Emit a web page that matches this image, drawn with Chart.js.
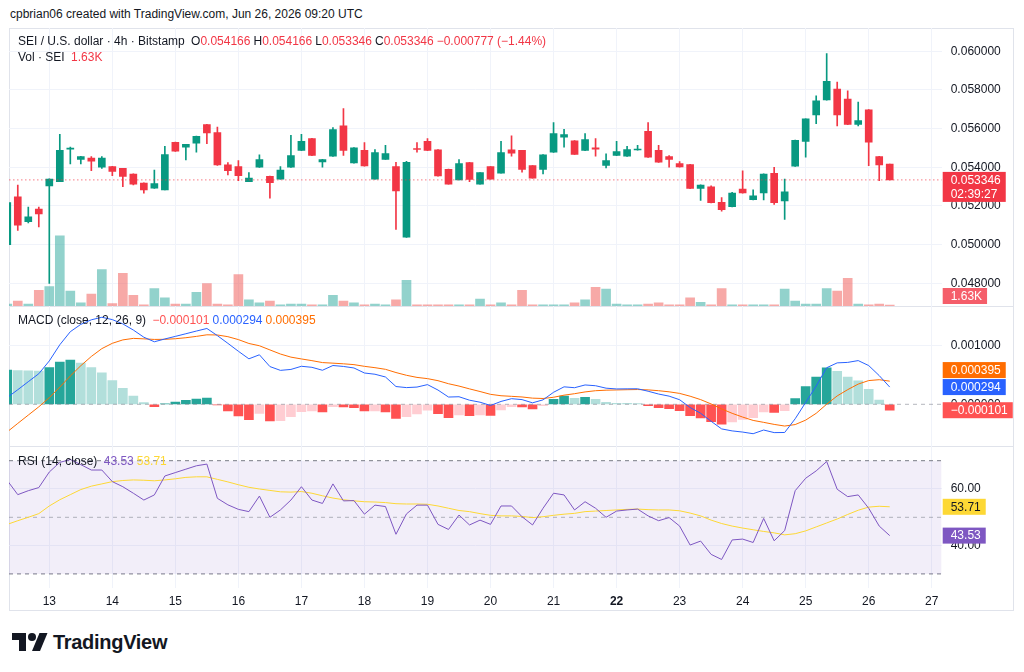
<!DOCTYPE html>
<html>
<head>
<meta charset="utf-8">
<title>SEI / U.S. dollar · 4h · Bitstamp</title>
<script src="https://cdn.jsdelivr.net/npm/chart.js@4.4.1/dist/chart.umd.min.js"></script>
<style>
  html, body { margin: 0; padding: 0; background: #ffffff; }
  body {
    position: relative; width: 1024px; height: 672px; overflow: hidden;
    font-family: 'Liberation Sans', Arial, sans-serif; font-size: 12px; color: #131722;
  }
  canvas { position: absolute; left: 0; }
  .frame { position: absolute; left: 9px; top: 28px; width: 1005px; height: 583px; border: 1px solid #e0e3eb; box-sizing: border-box; }
  .sep { position: absolute; left: 9px; width: 1005px; height: 1px; background: #e0e3eb; }
  .txt { position: absolute; white-space: pre; line-height: 14px; z-index: 2; }
  .txt .g { margin-left: 3px; }
  .red { color: #f23645; }
  .logo { position: absolute; left: 12px; top: 631px; height: 22px; display: flex; align-items: center; }
  .logo span { font-size: 20px; font-weight: bold; margin-left: 5px; letter-spacing: -0.3px; color: #131722; }
</style>
</head>
<body>
<div class="txt" style="left:10px;top:7px;color:#131722;">cpbrian06 created with TradingView.com, Jun 26, 2026 09:20 UTC</div>
<div class="frame"></div>
<div class="sep" style="top:306px"></div>
<div class="sep" style="top:446px"></div>
<canvas id="price" width="1024" height="278" style="top:28px"></canvas>
<canvas id="macd" width="1024" height="140" style="top:306px"></canvas>
<canvas id="rsi" width="1024" height="164" style="top:446px"></canvas>
<div class="txt" id="legSym" style="left:18px;top:34px"></div>
<div class="txt" id="legVol" style="left:18px;top:50px"></div>
<div class="txt" id="legMacd" style="left:18px;top:313px"></div>
<div class="txt" id="legRsi" style="left:18px;top:454px"></div>
<div class="logo">
  <svg width="36" height="18" viewBox="0 4 36 18"><path d="M14 22H7V11H0V4h14v18z" fill="#131722"/><circle cx="20" cy="8" r="4" fill="#131722"/><path d="M28 22h-8l7.5-18h8z" fill="#131722"/></svg>
  <span>TradingView</span>
</div>
<script>
// 4h candles, first one is Jun 12 08:00 UTC (day units on the x axis)
var firstCandleDay = 12 + 8 / 24;
var candleStepDays = 4 / 24;
var boldDayTicks = [22];
var countdownText = '02:39:27';

var opens = [0.05000, 0.05247, 0.05118, 0.05184,
  0.05304, 0.05325, 0.05494, 0.05440, 0.05447, 0.05400, 0.05403, 0.05394, 0.05365, 0.05318,
  0.05292, 0.05283, 0.05529, 0.05504, 0.05525, 0.05621, 0.05579, 0.05412, 0.05403, 0.05326,
  0.05400, 0.05353, 0.05339, 0.05400, 0.05487, 0.05548, 0.05428, 0.05457, 0.05614, 0.05422,
  0.05487, 0.05339, 0.05441, 0.05403, 0.05038, 0.05497, 0.05534, 0.05490, 0.05389, 0.05335,
  0.05424, 0.05313, 0.05403, 0.05370, 0.05490, 0.05487, 0.05408, 0.05389, 0.05478, 0.05555,
  0.05537, 0.05487, 0.05501, 0.05410, 0.05461, 0.05457, 0.05489, 0.05586, 0.05487, 0.05455,
  0.05419, 0.05414, 0.05290, 0.05299, 0.05219, 0.05196, 0.05287, 0.05232, 0.05267, 0.05368,
  0.05226, 0.05405, 0.05534, 0.05671, 0.05748, 0.05804, 0.05753, 0.05621, 0.05697, 0.05455,
  0.054166];
var highs = [0.05220, 0.05308, 0.05194, 0.05194,
  0.05340, 0.05570, 0.05504, 0.05457, 0.05455, 0.05455, 0.05405, 0.05395, 0.05366, 0.05319,
  0.05386, 0.05508, 0.05530, 0.05519, 0.05561, 0.05622, 0.05608, 0.05424, 0.05435, 0.05373,
  0.05464, 0.05354, 0.05403, 0.05565, 0.05570, 0.05549, 0.05441, 0.05605, 0.05704, 0.05502,
  0.05527, 0.05492, 0.05513, 0.05426, 0.05431, 0.05527, 0.05548, 0.05491, 0.05390, 0.05440,
  0.05425, 0.05373, 0.05404, 0.05534, 0.05563, 0.05488, 0.05409, 0.05465, 0.05631, 0.05596,
  0.05538, 0.05574, 0.05548, 0.05469, 0.05534, 0.05508, 0.05513, 0.05631, 0.05513, 0.05461,
  0.05429, 0.05415, 0.05309, 0.05304, 0.05243, 0.05270, 0.05382, 0.05283, 0.05366, 0.05400,
  0.05339, 0.05540, 0.05651, 0.05769, 0.05988, 0.05840, 0.05795, 0.05737, 0.05698, 0.05456,
  0.054166];
var lows = [0.04995, 0.05073, 0.05112, 0.05091,
  0.04799, 0.05325, 0.05417, 0.05417, 0.05382, 0.05394, 0.05356, 0.05299, 0.05308, 0.05266,
  0.05290, 0.05283, 0.05482, 0.05438, 0.05478, 0.05522, 0.05410, 0.05360, 0.05330, 0.05325,
  0.05399, 0.05240, 0.05338, 0.05399, 0.05486, 0.05460, 0.05400, 0.05456, 0.05461, 0.05421,
  0.05406, 0.05338, 0.05440, 0.05078, 0.05037, 0.05478, 0.05486, 0.05354, 0.05312, 0.05334,
  0.05326, 0.05312, 0.05338, 0.05369, 0.05457, 0.05375, 0.05343, 0.05365, 0.05477, 0.05504,
  0.05466, 0.05486, 0.05457, 0.05396, 0.05460, 0.05456, 0.05488, 0.05451, 0.05425, 0.05400,
  0.05400, 0.05289, 0.05229, 0.05216, 0.05173, 0.05195, 0.05266, 0.05231, 0.05231, 0.05208,
  0.05130, 0.05404, 0.05452, 0.05626, 0.05747, 0.05614, 0.05620, 0.05614, 0.05408, 0.05330,
  0.053346];
var closes = [0.05217, 0.05100, 0.05144, 0.05159,
  0.05339, 0.05487, 0.05497, 0.05455, 0.05431, 0.05447, 0.05379, 0.05353, 0.05313, 0.05283,
  0.05316, 0.05466, 0.05483, 0.05518, 0.05560, 0.05577, 0.05412, 0.05382, 0.05356, 0.05344,
  0.05440, 0.05320, 0.05386, 0.05461, 0.05534, 0.05461, 0.05440, 0.05595, 0.05487, 0.05501,
  0.05407, 0.05476, 0.05471, 0.05278, 0.05426, 0.05492, 0.05487, 0.05355, 0.05313, 0.05419,
  0.05337, 0.05372, 0.05339, 0.05476, 0.05473, 0.05389, 0.05344, 0.05464, 0.05574, 0.05569,
  0.05467, 0.05543, 0.05493, 0.05435, 0.05481, 0.05492, 0.05494, 0.05452, 0.05426, 0.05441,
  0.05402, 0.05290, 0.05308, 0.05217, 0.05180, 0.05266, 0.05267, 0.05252, 0.05365, 0.05217,
  0.05273, 0.05539, 0.05650, 0.05743, 0.05845, 0.05671, 0.05621, 0.05642, 0.05530, 0.054123,
  0.053346];
// volume in thousands of SEI
var volumes = [3, 8, 3, 25,
  31, 112, 24, 5, 19, 58, 4, 52, 17, 2,
  28, 13, 3, 3, 22, 36, 3, 2, 50, 10,
  5, 8, 2, 3, 3, 2, 2, 17, 8, 5,
  2, 3, 2, 10, 41, 2, 2, 2, 2, 2,
  2, 11, 2, 5, 2, 25, 2, 2, 2, 2,
  5, 10, 30, 27, 3, 2, 2, 3, 5, 2,
  2, 13, 6, 2, 28, 2, 2, 2, 2, 2,
  27, 8, 3, 3, 28, 24, 44, 3, 2, 3,
  1.63];

var macdLine = [0.000116, 0.000249, 0.000386, 0.000522,
  0.000740, 0.001016, 0.001239, 0.001364, 0.001442, 0.001485, 0.001445, 0.001372, 0.001267, 0.001145,
  0.001067, 0.001115, 0.001159, 0.001204, 0.001250, 0.001294, 0.001172, 0.001040, 0.000905, 0.000776,
  0.000845, 0.000644, 0.000579, 0.000595, 0.000649, 0.000631, 0.000581, 0.000662, 0.000646, 0.000620,
  0.000534, 0.000513, 0.000466, 0.000303, 0.000285, 0.000294, 0.000336, 0.000243, 0.000124, 0.000129,
  0.000070, 0.000036, -0.000020, 0.000049, 0.000096, 0.000080, 0.000025, 0.000076, 0.000205, 0.000298,
  0.000283, 0.000330, 0.000317, 0.000275, 0.000262, 0.000264, 0.000265, 0.000223, 0.000175, 0.000139,
  0.000078, -0.000055, -0.000153, -0.000290, -0.000420, -0.000454, -0.000474, -0.000502, -0.000439, -0.000483,
  -0.000481, -0.000247, 0.000032, 0.000311, 0.000624, 0.000707, 0.000715, 0.000746, 0.000661, 0.000490,
  0.000294];
var signalLine = [-0.000470, -0.000326, -0.000184, -0.000043,
  0.000114, 0.000294, 0.000483, 0.000659, 0.000816, 0.000950, 0.001041, 0.001099, 0.001125, 0.001117,
  0.001107, 0.001109, 0.001119, 0.001136, 0.001159, 0.001186, 0.001183, 0.001154, 0.001104, 0.001038,
  0.000999, 0.000928, 0.000858, 0.000805, 0.000774, 0.000745, 0.000712, 0.000702, 0.000691, 0.000677,
  0.000648, 0.000625, 0.000597, 0.000542, 0.000495, 0.000459, 0.000438, 0.000403, 0.000351, 0.000311,
  0.000263, 0.000218, 0.000170, 0.000146, 0.000136, 0.000125, 0.000105, 0.000099, 0.000120, 0.000156,
  0.000181, 0.000211, 0.000232, 0.000241, 0.000245, 0.000249, 0.000252, 0.000246, 0.000232, 0.000213,
  0.000186, 0.000138, 0.000080, 0.000006, -0.000079, -0.000154, -0.000218, -0.000275, -0.000308, -0.000343,
  -0.000371, -0.000346, -0.000270, -0.000154, 0.000002, 0.000143, 0.000250, 0.000345, 0.000405, 0.000420,
  0.000395];
var macdHist = [0.000586, 0.000575, 0.000570, 0.000565,
  0.000626, 0.000722, 0.000756, 0.000705, 0.000626, 0.000535, 0.000404, 0.000273, 0.000142, 0.000028,
  -0.000040, 0.000006, 0.000040, 0.000068, 0.000091, 0.000108, -0.000011, -0.000114, -0.000199, -0.000262,
  -0.000154, -0.000284, -0.000279, -0.000210, -0.000125, -0.000114, -0.000131, -0.000040, -0.000045, -0.000057,
  -0.000114, -0.000112, -0.000131, -0.000239, -0.000210, -0.000165, -0.000102, -0.000160, -0.000227, -0.000182,
  -0.000193, -0.000182, -0.000190, -0.000097, -0.000040, -0.000045, -0.000080, -0.000023, 0.000085, 0.000142,
  0.000102, 0.000119, 0.000085, 0.000034, 0.000017, 0.000015, 0.000013, -0.000023, -0.000057, -0.000074,
  -0.000108, -0.000193, -0.000233, -0.000296, -0.000341, -0.000300, -0.000256, -0.000227, -0.000131, -0.000140,
  -0.000110, 0.000099, 0.000302, 0.000465, 0.000622, 0.000564, 0.000465, 0.000401, 0.000256, 0.000070,
  -0.000101];

var rsiValues = [63.0, 58.0, 59.4, 60.5,
  66.0, 69.4, 70.4, 68.6, 66.7, 66.7, 62.6, 60.8, 58.5, 56.1,
  57.9, 64.6, 65.8, 67.0, 68.2, 68.8, 56.7, 54.4, 52.8, 52.0,
  57.5, 50.0, 52.6, 56.1, 60.8, 56.1, 54.9, 61.8, 55.8, 55.9,
  51.1, 54.3, 53.8, 44.0, 51.2, 54.3, 54.3, 47.5, 45.7, 50.8,
  47.3, 49.0, 47.5, 54.0, 54.0, 50.2, 47.3, 53.2, 58.5, 57.9,
  52.6, 55.5, 53.2, 50.0, 52.2, 52.6, 52.9, 50.5, 48.8, 49.9,
  46.9, 40.2, 41.6, 36.9, 35.1, 42.0, 42.3, 41.1, 49.6, 41.7,
  45.3, 59.4, 63.8, 66.4, 69.7, 59.9, 57.3, 57.9, 53.2, 46.9,
  43.53];
var rsiMa = [47.5, 48.8, 50.0, 51.3,
  54.0, 56.2, 58.0, 59.8, 61.0, 61.8, 62.6, 63.0, 63.2, 63.1,
  62.9, 63.2, 63.6, 64.1, 64.3, 64.3, 63.4, 62.5, 61.5, 60.6,
  60.0, 59.5, 59.0, 58.9, 59.1, 58.5, 57.6, 56.8, 56.2, 55.8,
  55.5, 55.4, 55.2, 54.8, 54.7, 54.7, 54.6, 54.0, 53.2, 52.4,
  52.0, 51.3, 50.7, 50.5, 50.5, 50.3, 49.9, 50.2, 50.7, 51.1,
  51.4, 52.0, 52.2, 52.4, 52.6, 52.8, 52.9, 52.7, 52.6, 52.6,
  52.3, 51.5, 50.5, 49.0, 47.8, 46.9, 46.2, 45.6, 45.0, 44.5,
  43.8, 44.2, 45.2, 46.6, 48.0, 49.4, 51.0, 52.5, 53.6, 53.9,
  53.71];
var rsiUpper = 70, rsiMiddle = 50, rsiLower = 30;

(function () {
  'use strict';

  var FONT = "'Liberation Sans', Arial, sans-serif";
  var TEXT = '#131722';
  var GRID = '#f0f3fa';
  var UP = '#089981';
  var DOWN = '#f23645';
  var AXIS_W = 82.3;
  var X_MIN = 12.3606;
  var X_MAX = 27.158;

  var last = closes.length - 1;
  var xs = closes.map(function (_, i) { return firstCandleDay + i * candleStepDays; });

  function signed(v, d) {
    return (v < 0 ? '\u2212' : '') + Math.abs(v).toFixed(d);
  }

  function noPad(s) {
    s.paddingLeft = 0; s.paddingRight = 0; s.paddingTop = 0; s.paddingBottom = 0;
  }

  function xAxis(labels) {
    return {
      type: 'linear', min: X_MIN, max: X_MAX, offset: false,
      grid: { color: GRID, drawTicks: false, offset: false },
      border: { display: false },
      ticks: {
        display: labels, stepSize: 1, includeBounds: false, autoSkip: false,
        maxTicksLimit: 30, maxRotation: 0, padding: 6, color: TEXT,
        font: function (c) {
          var bold = c.tick && boldDayTicks.indexOf(Math.round(c.tick.value)) >= 0;
          return { family: FONT, size: 12, weight: bold ? 'bold' : 'normal' };
        },
        callback: function (v) { return String(Math.round(v)); },
      },
      afterFit: function (s) { s.height = labels ? 22 : 0; noPad(s); },
    };
  }

  function yAxis(min, max, step, fmt, gridColor) {
    return {
      type: 'linear', position: 'right', min: min, max: max,
      grid: { color: gridColor || GRID, drawTicks: false },
      border: { display: false },
      ticks: {
        stepSize: step, includeBounds: false, padding: 9, color: TEXT,
        font: { family: FONT, size: 12 }, callback: fmt,
      },
      afterFit: function (s) { s.width = AXIS_W; noPad(s); },
    };
  }

  function baseOptions(scales) {
    return {
      responsive: false,
      animation: false,
      events: [],
      layout: { padding: { left: 9, right: 0, top: 0, bottom: 0 } },
      plugins: { legend: { display: false }, tooltip: { enabled: false } },
      scales: scales,
    };
  }

  function hline(value, color, dash) {
    return {
      type: 'line', data: [{ x: X_MIN, y: value }, { x: X_MAX, y: value }],
      borderColor: color, borderWidth: 1, borderDash: dash || [], pointRadius: 0, fill: false,
    };
  }

  function series(values) {
    return xs.map(function (x, i) { return { x: x, y: values[i] }; });
  }

  // coloured value boxes on the price scale, pushed apart when they overlap
  function sideLabels(items) {
    return {
      id: 'sideLabels',
      afterDraw: function (chart) {
        var ctx = chart.ctx;
        var area = chart.chartArea;
        var placed = [];
        ctx.save();
        ctx.font = '12px ' + FONT;
        ctx.textBaseline = 'middle';
        items.forEach(function (it) {
          var y = chart.scales[it.axis].getPixelForValue(it.value);
          var h = 14 * it.lines.length + 2;
          var top = y - 8;
          if (top + h > area.bottom - 2) top = area.bottom - 2 - h;
          placed.forEach(function (p) {
            if (top < p.top + p.h && top + h > p.top) top = p.top - h - 1;
          });
          placed.push({ top: top, h: h });
          var w = 0;
          it.lines.forEach(function (t) { w = Math.max(w, ctx.measureText(t).width); });
          var left = area.right + 1;
          ctx.fillStyle = it.bg;
          ctx.fillRect(left, top, w + 13, h);
          ctx.fillStyle = it.fg;
          it.lines.forEach(function (t, k) { ctx.fillText(t, left + 8, top + 8.5 + 14 * k); });
        });
        ctx.restore();
      },
    };
  }

  var candleColors = closes.map(function (c, i) { return c >= opens[i] ? UP : DOWN; });
  var volColors = closes.map(function (c, i) {
    return c >= opens[i] ? 'rgba(38,166,154,0.5)' : 'rgba(239,83,80,0.5)';
  });
  var histColors = macdHist.map(function (h, i) {
    var prev = i > 0 ? macdHist[i - 1] : -Infinity;
    if (i === 0) prev = h >= 0 ? -Infinity : Infinity;
    if (h >= 0) return h > prev ? '#26a69a' : '#b2dfdb';
    return h < prev ? '#ff5252' : '#ffcdd2';
  });

  // price + volume pane
  var priceLine = hline(closes[last], 'rgba(242,54,69,0.65)', [1.5, 2.5]);
  priceLine.order = 0;
  new Chart(document.getElementById('price'), {
    type: 'bar',
    data: {
      datasets: [
        priceLine,
        {
          data: xs.map(function (x, i) { return { x: x, y: [opens[i], closes[i]] }; }),
          backgroundColor: candleColors, barThickness: 7, minBarLength: 1, grouped: false, order: 1,
        },
        {
          data: xs.map(function (x, i) { return { x: x, y: [lows[i], highs[i]] }; }),
          backgroundColor: candleColors, barThickness: 1, grouped: false, order: 2,
        },
        {
          data: series(volumes), yAxisID: 'yv',
          backgroundColor: volColors, barThickness: 9, grouped: false, order: 3,
        },
      ],
    },
    options: baseOptions({
      x: xAxis(false),
      y: yAxis(0.046824, 0.061202, 0.002, function (v) { return v.toFixed(6); }),
      yv: { type: 'linear', display: false, min: 0, max: 444 },
    }),
    plugins: [sideLabels([
      { axis: 'yv', value: volumes[last], lines: [volumes[last].toFixed(2) + 'K'], bg: 'rgba(242,54,69,0.8)', fg: '#ffffff' },
      { axis: 'y', value: closes[last], lines: [closes[last].toFixed(6), countdownText], bg: '#f23645', fg: '#ffffff' },
    ])],
  });

  // MACD pane
  var zero = hline(0, 'rgba(120,123,134,0.55)', [4, 4]);
  zero.order = 2;
  new Chart(document.getElementById('macd'), {
    type: 'bar',
    data: {
      datasets: [
        { type: 'line', data: series(macdLine), borderColor: '#2962ff', borderWidth: 1, pointRadius: 0, order: 0 },
        { type: 'line', data: series(signalLine), borderColor: '#ff6d00', borderWidth: 1, pointRadius: 0, order: 1 },
        zero,
        { data: series(macdHist), backgroundColor: histColors, barThickness: 9, grouped: false, order: 3 },
      ],
    },
    options: baseOptions({
      x: xAxis(false),
      y: yAxis(-0.0007116, 0.0016775, 0.001, function (v) {
        return Math.abs(v) < 1e-12 ? '0.000000' : signed(v, 6);
      }, function (c) { return c.tick && Math.abs(c.tick.value) < 1e-12 ? 'rgba(0,0,0,0)' : GRID; }),
    }),
    plugins: [sideLabels([
      { axis: 'y', value: macdHist[last], lines: [signed(macdHist[last], 6)], bg: '#ff5252', fg: '#ffffff' },
      { axis: 'y', value: macdLine[last], lines: [signed(macdLine[last], 6)], bg: '#2962ff', fg: '#ffffff' },
      { axis: 'y', value: signalLine[last], lines: [signed(signalLine[last], 6)], bg: '#ff6d00', fg: '#ffffff' },
    ])],
  });

  // RSI pane with the time axis
  var upper = hline(rsiUpper, '#787b86', [4, 4]);
  upper.fill = '+1';
  upper.backgroundColor = 'rgba(126,87,194,0.1)';
  upper.order = 3;
  var lower = hline(rsiLower, '#787b86', [4, 4]);
  lower.order = 4;
  var middle = hline(rsiMiddle, 'rgba(120,123,134,0.55)', [4, 4]);
  middle.order = 2;
  new Chart(document.getElementById('rsi'), {
    type: 'line',
    data: {
      datasets: [
        { data: series(rsiValues), borderColor: '#7e57c2', borderWidth: 1, pointRadius: 0, order: 0 },
        { data: series(rsiMa), borderColor: '#fdd835', borderWidth: 1, pointRadius: 0, order: 1 },
        upper,
        lower,
        middle,
      ],
    },
    options: baseOptions({
      x: xAxis(true),
      y: yAxis(25.02, 75.19, 20, function (v) { return v.toFixed(2); }),
    }),
    plugins: [sideLabels([
      { axis: 'y', value: rsiMa[last], lines: [rsiMa[last].toFixed(2)], bg: '#fdd835', fg: TEXT },
      { axis: 'y', value: rsiValues[last], lines: [rsiValues[last].toFixed(2)], bg: '#7e57c2', fg: '#ffffff' },
    ])],
  });

  // legends
  var chg = closes[last] - closes[last - 1];
  var pct = chg / closes[last - 1] * 100;
  function val(label, v) {
    return '<span class="g">' + label + '<span class="red">' + v + '</span></span>';
  }
  document.getElementById('legSym').innerHTML = 'SEI / U.S. dollar \u00b7 4h \u00b7 Bitstamp ' +
    val('O', opens[last].toFixed(6)) + val('H', highs[last].toFixed(6)) +
    val('L', lows[last].toFixed(6)) + val('C', closes[last].toFixed(6)) +
    val('', signed(chg, 6) + ' (' + signed(pct, 2) + '%)');
  document.getElementById('legVol').innerHTML = 'Vol \u00b7 SEI <span class="g red">' +
    volumes[last].toFixed(2) + 'K</span>';
  document.getElementById('legMacd').innerHTML = 'MACD (close, 12, 26, 9) ' +
    '<span class="g" style="color:#ff5252">' + signed(macdHist[last], 6) + '</span>' +
    '<span class="g" style="color:#2962ff">' + signed(macdLine[last], 6) + '</span>' +
    '<span class="g" style="color:#ff6d00">' + signed(signalLine[last], 6) + '</span>';
  document.getElementById('legRsi').innerHTML = 'RSI (14, close) ' +
    '<span class="g" style="color:#7e57c2">' + rsiValues[last].toFixed(2) + '</span>' +
    '<span class="g" style="color:#fdd835">' + rsiMa[last].toFixed(2) + '</span>';
})();
</script>
</body>
</html>
